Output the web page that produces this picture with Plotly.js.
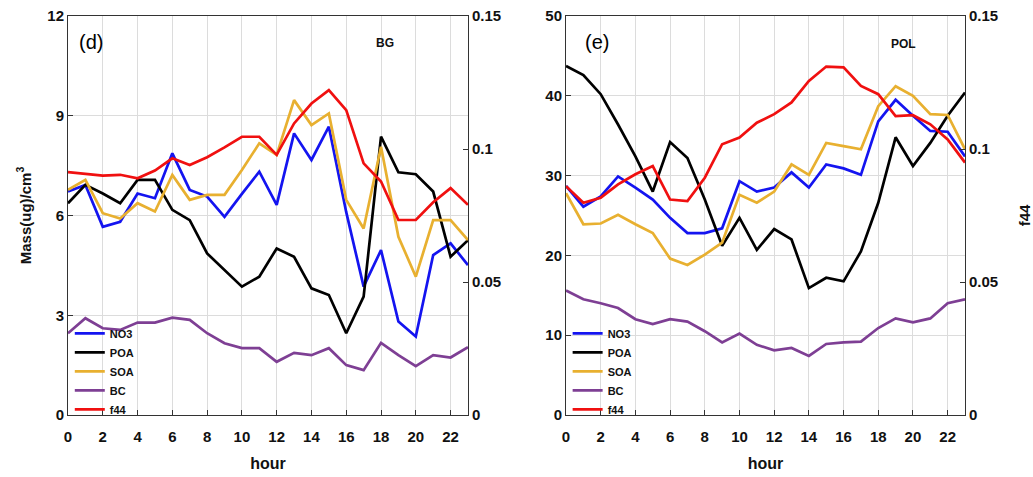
<!DOCTYPE html>
<html>
<head>
<meta charset="utf-8">
<script src="https://cdn.plot.ly/plotly-3.0.1.min.js"></script>
<style>html,body{margin:0;padding:0;background:#fff;}#chart{width:1033px;height:477px;}</style>
</head>
<body>
<div id="chart"></div>
<script>
// ---- data ----
const hours = [0,1,2,3,4,5,6,7,8,9,10,11,12,13,14,15,16,17,18,19,20,21,22,23];
const seriesNames = ["NO3","POA","SOA","BC","f44"];
const xTickVals = [0,2,4,6,8,10,12,14,16,18,20,22];

// Panel (d) BG
const bgNO3 = [6.72,6.92,5.66,5.81,6.66,6.52,7.87,6.77,6.57,5.96,6.65,7.32,6.32,8.47,7.67,8.67,6.1,3.86,4.96,2.81,2.36,4.81,5.16,4.51];
const bgPOA = [6.37,6.92,6.66,6.37,7.07,7.07,6.17,5.86,4.86,4.36,3.86,4.16,5.01,4.76,3.81,3.61,2.46,3.56,8.37,7.30,7.24,6.72,4.76,5.26];
const bgSOA = [6.77,7.07,6.07,5.91,6.37,6.12,7.22,6.47,6.62,6.62,7.37,8.17,7.82,9.47,8.72,9.07,6.47,5.61,8.07,5.36,4.16,5.86,5.86,5.26];
const bgBC  = [2.46,2.91,2.61,2.56,2.78,2.78,2.93,2.86,2.46,2.16,2.01,2.01,1.60,1.87,1.80,2.01,1.50,1.35,2.17,1.80,1.47,1.80,1.73,2.04];
const bgF44 = [0.0913,0.0906,0.0900,0.0903,0.0890,0.0919,0.0965,0.0940,0.0969,0.1006,0.1046,0.1046,0.0978,0.1096,0.1171,0.1221,0.1146,0.0946,0.0878,0.0733,0.0733,0.0800,0.0853,0.0790];

// Panel (e) POL
const polNO3 = [28.7,26.1,27.4,29.9,28.5,27.0,24.7,22.8,22.8,23.4,29.3,28.0,28.5,30.4,28.5,31.4,30.9,30.1,36.8,39.5,37.5,35.6,35.5,32.4];
const polPOA = [43.75,42.6,40.2,36.4,32.4,28.0,34.2,32.2,27.0,21.2,24.7,20.7,23.3,22.0,15.9,17.2,16.75,20.5,26.6,34.8,31.2,34.1,37.5,40.4];
const polSOA = [27.8,23.9,24.0,25.1,23.9,22.8,19.6,18.8,20.1,21.6,27.6,26.6,28.0,31.4,30.1,34.1,33.7,33.3,38.7,41.2,40.0,37.7,37.6,33.3];
const polBC  = [15.6,14.5,14.0,13.4,12.0,11.4,12.0,11.7,10.5,9.1,10.2,8.8,8.1,8.4,7.4,8.9,9.1,9.2,10.9,12.1,11.6,12.1,14.0,14.5];
const polF44 = [0.0860,0.0798,0.0817,0.0867,0.0905,0.0936,0.0810,0.0804,0.0892,0.1018,0.1043,0.1099,0.1131,0.1175,0.1256,0.1310,0.1307,0.1237,0.1206,0.1124,0.1127,0.1093,0.1036,0.0949];

// ---- styling ----
const colors = ["#1414f0","#000000","#e8b030","#7e3f94","#f01010"];
const FONT = "Liberation Sans, Arial, sans-serif";

function mk(y, i, xa, ya, leg){
  return {x: hours, y: y, name: seriesNames[i], type: "scatter", mode: "lines",
    line: {color: colors[i], width: 2.7}, xaxis: xa, yaxis: ya, legend: leg};
}

const traces = [
  mk(bgNO3,0,"x","y","legend"), mk(bgPOA,1,"x","y","legend"), mk(bgSOA,2,"x","y","legend"),
  mk(bgBC,3,"x","y","legend"), mk(bgF44,4,"x","y2","legend"),
  mk(polNO3,0,"x2","y3","legend2"), mk(polPOA,1,"x2","y3","legend2"), mk(polSOA,2,"x2","y3","legend2"),
  mk(polBC,3,"x2","y3","legend2"), mk(polF44,4,"x2","y4","legend2")
];

const tickFont = {family: FONT, size: 15, color: "#111", weight: "bold"};
const gridC = "#dcdcdc";

function xax(domain, anchor){
  return {domain: domain, anchor: anchor, range: [0,23], tickvals: xTickVals,
    showgrid: true, gridcolor: gridC, gridwidth: 1, zeroline: false,
    showline: true, linecolor: "#333", linewidth: 1, mirror: true,
    ticks: "inside", ticklen: 5, tickcolor: "#333", tickfont: tickFont, ticklabelstandoff: 8,
    title: {text: "<b>hour</b>", font: {family: FONT, size: 16, color: "#111"}, standoff: 13},
    automargin: false};
}
function yl(range, dtick, anchor, titleText){
  const a = {domain: [0,1], anchor: anchor, range: range, dtick: dtick,
    showgrid: true, gridcolor: gridC, gridwidth: 1, zeroline: false,
    showline: true, linecolor: "#333", linewidth: 1,
    ticks: "inside", ticklen: 5, tickcolor: "#333", tickfont: tickFont, automargin: false};
  if (titleText) a.title = {text: titleText, font: {family: FONT, size: 15, color: "#111"}, standoff: 12};
  return a;
}
function yr(overlay, anchor, titleText){
  const a = {overlaying: overlay, anchor: anchor, side: "right", range: [0,0.15],
    tickvals: [0,0.05,0.1,0.15], ticktext: ["0","0.05","0.1","0.15"],
    showgrid: false, zeroline: false, showline: true, linecolor: "#333", linewidth: 1,
    ticks: "inside", ticklen: 5, tickcolor: "#333", tickfont: tickFont, automargin: false};
  if (titleText) a.title = {text: titleText, font: {family: FONT, size: 15, color: "#111"}, standoff: 23};
  return a;
}

const legFont = {family: FONT, size: 11, color: "#111", weight: "bold"};
const layout = {
  width: 1033, height: 477,
  margin: {l: 68, r: 68, t: 16, b: 62},
  paper_bgcolor: "#fff", plot_bgcolor: "#fff",
  font: {family: FONT},
  xaxis: xax([0, 0.4459], "y"),
  yaxis: yl([0,12], 3, "x", "<b>Mass(ug)/cm<sup>3</sup></b>"),
  yaxis2: yr("y", "x"),
  xaxis2: xax([0.5552, 1.0], "y3"),
  yaxis3: yl([0,50], 10, "x2"),
  yaxis4: yr("y3", "x2", "<b>f44</b>"),
  legend: {x: 0.002, y: -0.022, xanchor: "left", yanchor: "bottom", bgcolor: "rgba(0,0,0,0)",
    font: legFont, tracegroupgap: 0, itemwidth: 30},
  legend2: {x: 0.557, y: -0.022, xanchor: "left", yanchor: "bottom", bgcolor: "rgba(0,0,0,0)",
    font: legFont, tracegroupgap: 0, itemwidth: 30},
  annotations: [
    {text: "(d)", xref: "paper", yref: "paper", x: 0.0256, y: 0.935, xanchor: "center", yanchor: "middle", showarrow: false,
      font: {family: FONT, size: 20, color: "#000"}},
    {text: "<b>BG</b>", xref: "paper", yref: "paper", x: 0.3534, y: 0.932, xanchor: "center", yanchor: "middle", showarrow: false,
      font: {family: FONT, size: 12, color: "#111"}},
    {text: "(e)", xref: "paper", yref: "paper", x: 0.5897, y: 0.935, xanchor: "center", yanchor: "middle", showarrow: false,
      font: {family: FONT, size: 20, color: "#000"}},
    {text: "<b>POL</b>", xref: "paper", yref: "paper", x: 0.931, y: 0.931, xanchor: "center", yanchor: "middle", showarrow: false,
      font: {family: FONT, size: 12, color: "#111"}}
  ],
  showlegend: true
};

Plotly.newPlot("chart", traces, layout, {displayModeBar: false, staticPlot: true});
</script>
</body>
</html>
